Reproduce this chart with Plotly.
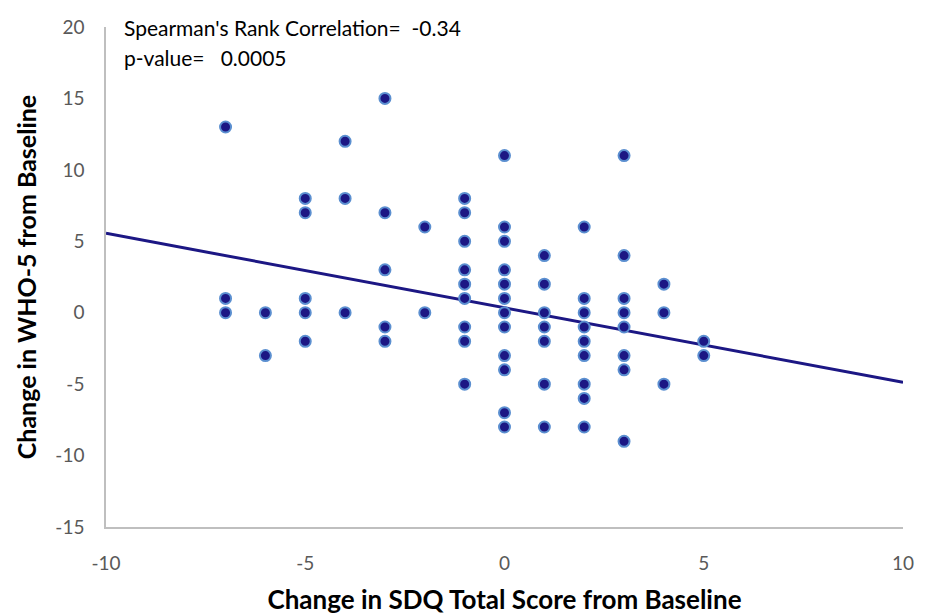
import plotly.graph_objects as go

# Data
x_vals = (
    [-7] * 3 + [-6] * 2 + [-5] * 5 + [-4] * 3 + [-3] * 5 + [-2] * 2
    + [-1] * 9 + [0] * 12 + [1] * 7 + [2] * 9 + [3] * 8 + [4] * 3 + [5] * 2
)
y_vals = (
    [13, 1, 0]
    + [0, -3]
    + [8, 7, 1, 0, -2]
    + [12, 8, 0]
    + [15, 7, 3, -1, -2]
    + [6, 0]
    + [8, 7, 5, 3, 2, 1, -1, -2, -5]
    + [11, 6, 5, 3, 2, 1, 0, -1, -3, -4, -7, -8]
    + [4, 2, 0, -1, -2, -5, -8]
    + [6, 1, 0, -1, -2, -3, -5, -6, -8]
    + [11, 4, 1, 0, -1, -3, -4, -9]
    + [2, 0, -5]
    + [-2, -3]
)
trend_x = [-10, 10]
trend_y = [5.56, -4.87]

x_ticks = [-10, -5, 0, 5, 10]
y_ticks = [-15, -10, -5, 0, 5, 10, 15, 20]

annot_lines = ["Spearman's Rank Correlation=  -0.34", "p-value=   0.0005"]

FONT = "Lato, 'Open Sans', sans-serif"

fig = go.Figure()
fig.add_trace(go.Scatter(
    x=trend_x, y=trend_y, mode="lines",
    line=dict(color="#1c1784", width=3),
    showlegend=False, hoverinfo="skip",
))
fig.add_trace(go.Scatter(
    x=x_vals, y=y_vals, mode="markers",
    marker=dict(size=11, color="#1c1784",
                line=dict(color="#5b8fd0", width=2)),
    showlegend=False,
))

fig.update_layout(
    width=928, height=616,
    margin=dict(l=98, r=33, t=19, b=97, autoexpand=False),
    paper_bgcolor="white", plot_bgcolor="white",
    font=dict(family=FONT, color="#595959", size=18),
    xaxis=dict(
        range=[-10, 10], tickvals=x_ticks, ticktext=[str(v) for v in x_ticks],
        showgrid=False, zeroline=False, showline=True,
        linecolor="#bfbfbf", linewidth=1.5, ticks="",
        ticklabelstandoff=18, automargin=False,
        tickfont=dict(size=19, color="#595959"),
        title=dict(text="<b>Change in SDQ Total Score from Baseline</b>",
                   font=dict(size=26, color="#000000", family=FONT), standoff=18),
    ),
    yaxis=dict(
        range=[-15, 20], tickvals=y_ticks, ticktext=[str(v) for v in y_ticks],
        showgrid=False, zeroline=False, showline=True,
        linecolor="#bfbfbf", linewidth=1.5, ticks="",
        ticklabelstandoff=16, automargin=False,
        tickfont=dict(size=19, color="#595959"),
        title=dict(text="<b>Change in WHO-5 from Baseline</b>",
                   font=dict(size=25, color="#000000", family=FONT), standoff=12),
    ),
    annotations=[
        dict(x=0.02, xref="paper", y=20, yref="y", text=annot_lines[0],
             showarrow=False, xanchor="left", yanchor="middle",
             font=dict(size=21, color="#000000", family=FONT)),
        dict(x=0.02, xref="paper", y=17.9, yref="y", text=annot_lines[1],
             showarrow=False, xanchor="left", yanchor="middle",
             font=dict(size=21, color="#000000", family=FONT)),
    ],
)

fig.write_html("out.html")
